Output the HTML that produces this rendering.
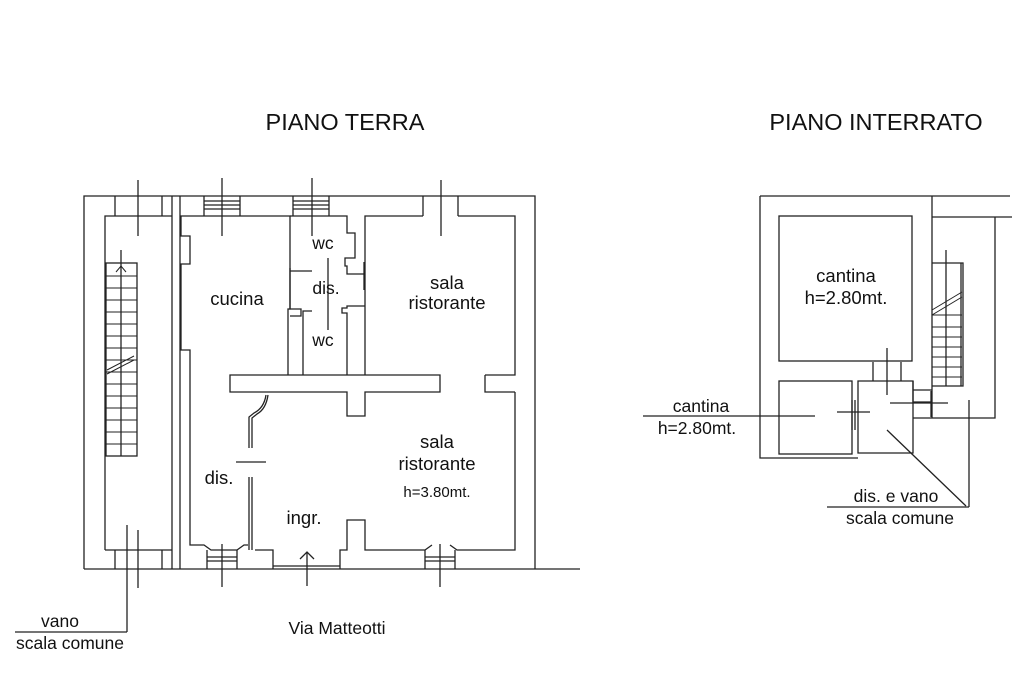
<!DOCTYPE html>
<html><head><style>
html,body{margin:0;padding:0;background:#fff;width:1024px;height:683px;overflow:hidden}
svg{display:block}
text{font-family:"Liberation Sans",Arial,sans-serif;fill:#111}
</style></head><body>
<svg width="1024" height="683" viewBox="0 0 1024 683" stroke="#222" stroke-width="1.3" fill="none">
<!-- Titles -->
<text x="345" y="130" font-size="23.5" text-anchor="middle" stroke="none">PIANO TERRA</text>
<text x="876" y="130" font-size="23.5" text-anchor="middle" stroke="none">PIANO INTERRATO</text>

<!-- ===== PIANO TERRA ===== -->
<path d="M84,569 V196 H535 V569"/>
<line x1="84" y1="569" x2="580" y2="569"/>
<path d="M105,550 V216 H172"/>
<path d="M105,550 H172"/>
<line x1="172" y1="196" x2="172" y2="569"/>
<line x1="180" y1="196" x2="180" y2="569"/>
<path d="M115,196 V216 M162,196 V216"/>
<path d="M115,550 V569 M162,550 V569"/>
<line x1="138" y1="180" x2="138" y2="236"/>
<rect x="106" y="263" width="31" height="193"/>
<line x1="121" y1="250" x2="121" y2="456"/>
<g stroke-width="1">
<path d="M106,276H137M106,288H137M106,300H137M106,312H137M106,324H137M106,336H137M106,348H137M106,360H137M106,372H137M106,384H137M106,396H137M106,408H137M106,420H137M106,432H137M106,444H137"/>
<path d="M107,370 L134,356 M107,374 L134,360"/>
<path d="M116,272 L121,266 L126,272"/>
</g>
<line x1="127" y1="525" x2="127" y2="632"/>
<line x1="138" y1="530" x2="138" y2="588"/>
<line x1="15" y1="632" x2="127" y2="632"/>
<text x="60" y="627" font-size="17.5" text-anchor="middle" stroke="none">vano</text>
<text x="70" y="649" font-size="17.5" text-anchor="middle" stroke="none">scala comune</text>

<path d="M190,375 V350 H181 V264 H190 V236 H181 V216 H290 V309 H288 V375"/>
<path d="M204,196 V216 M240,196 V216 M204,201 H240 M204,205 H240 M204,209 H240"/>
<line x1="222" y1="178" x2="222" y2="236"/>
<path d="M293,196 V216 M329,196 V216 M293,201 H329 M293,205 H329 M293,209 H329"/>
<line x1="312" y1="178" x2="312" y2="236"/>
<path d="M290,216 H347 V233 H355 V258 H345 V266 H347 V274 H365"/>
<path d="M290,268 V309 H301 V316 H290"/>
<path d="M290,271 H312"/>
<path d="M303,375 V311 H312"/>
<path d="M347,375 V313 H342 V308 H347 V306 H365"/>
<line x1="328" y1="258" x2="328" y2="330"/>
<line x1="364" y1="262" x2="364" y2="290"/>
<text x="323" y="249" font-size="17.5" text-anchor="middle" stroke="none">wc</text>
<text x="326" y="294" font-size="17.5" text-anchor="middle" stroke="none">dis.</text>
<text x="323" y="346" font-size="17.5" text-anchor="middle" stroke="none">wc</text>
<path d="M365,375 V216 H423 M458,216 H515 V375 H485"/>
<path d="M423,196 V216 M458,196 V216"/>
<line x1="441" y1="180" x2="441" y2="236"/>
<path d="M230,375 H440 V392 H365 V416 H347 V392 H230 Z"/>
<path d="M485,375 V392 H515"/>
<path d="M190,375 V545 H204 L211,550 H237 L244,545 H248"/>
<path d="M255,550 H273 V569"/>
<path d="M340,569 V550 H347 V520 H365 V550 H425 L432,545 M450,545 L457,550 H515 V392"/>
<path d="M207,550 V569 M237,550 V569 M207,557 H237 M207,561 H237"/>
<line x1="222" y1="544" x2="222" y2="587"/>
<path d="M425,550 V569 M455,550 V569 M425,557 H455 M425,561 H455"/>
<line x1="440" y1="544" x2="440" y2="587"/>
<path d="M273,566 H340"/>
<line x1="307" y1="552" x2="307" y2="586"/>
<path d="M300,559 L307,552 L314,559"/>
<path d="M249,448 V417 L254,413 Q264,408 266,395 M252,448 V418 L257,414 Q266,409 268,395"/>
<line x1="236" y1="462" x2="266" y2="462"/>
<path d="M249,477 V550 M252,477 V550"/>
<text x="219" y="484" font-size="18.5" text-anchor="middle" stroke="none">dis.</text>
<text x="237" y="305" font-size="18.5" text-anchor="middle" stroke="none">cucina</text>
<text x="447" y="289" font-size="18.5" text-anchor="middle" stroke="none">sala</text>
<text x="447" y="309" font-size="18.5" text-anchor="middle" stroke="none">ristorante</text>
<text x="437" y="448" font-size="18.5" text-anchor="middle" stroke="none">sala</text>
<text x="437" y="470" font-size="18.5" text-anchor="middle" stroke="none">ristorante</text>
<text x="437" y="497" font-size="15" text-anchor="middle" stroke="none">h=3.80mt.</text>
<text x="304" y="524" font-size="18.5" text-anchor="middle" stroke="none">ingr.</text>
<text x="337" y="634" font-size="17.5" text-anchor="middle" stroke="none">Via Matteotti</text>

<!-- ===== PIANO INTERRATO ===== -->
<path d="M760,196 H1010 M760,196 V458 H858"/>
<line x1="932" y1="196" x2="932" y2="418"/>
<path d="M932,217 H1012 M995,217 V418 H913"/>
<rect x="779" y="216" width="133" height="145"/>
<path d="M873,362 V381 M901,362 V381"/>
<line x1="887" y1="348" x2="887" y2="395"/>
<rect x="779" y="381" width="73" height="73"/>
<path d="M858,381 H913 V453 H858 Z"/>
<path d="M913,381 V402 H932 M913,390 H932"/>
<path d="M852,400 V430 M855,400 V430"/>
<line x1="643" y1="416" x2="815" y2="416"/>
<line x1="837" y1="412" x2="870" y2="412"/>
<line x1="890" y1="403" x2="948" y2="403"/>
<line x1="931" y1="391" x2="931" y2="417"/>
<path d="M932,263 H963 V386 H932"/>
<line x1="961" y1="263" x2="961" y2="386"/>
<line x1="946" y1="250" x2="946" y2="386"/>
<g stroke-width="1">
<path d="M932,315 L962,297 M932,310 L962,292"/>
<path d="M932,315H962M932,327H962M932,337H962M932,347H962M932,357H962M932,367H962M932,377H962"/>
</g>
<line x1="969" y1="400" x2="969" y2="507"/>
<line x1="887" y1="430" x2="966" y2="506"/>
<line x1="827" y1="507" x2="969" y2="507"/>
<text x="846" y="282" font-size="18.5" text-anchor="middle" stroke="none">cantina</text>
<text x="846" y="304" font-size="18.5" text-anchor="middle" stroke="none">h=2.80mt.</text>
<text x="701" y="412" font-size="17.5" text-anchor="middle" stroke="none">cantina</text>
<text x="697" y="434" font-size="17.5" text-anchor="middle" stroke="none">h=2.80mt.</text>
<text x="896" y="502" font-size="17.5" text-anchor="middle" stroke="none">dis. e vano</text>
<text x="900" y="524" font-size="17.5" text-anchor="middle" stroke="none">scala comune</text>
</svg>
</body></html>
